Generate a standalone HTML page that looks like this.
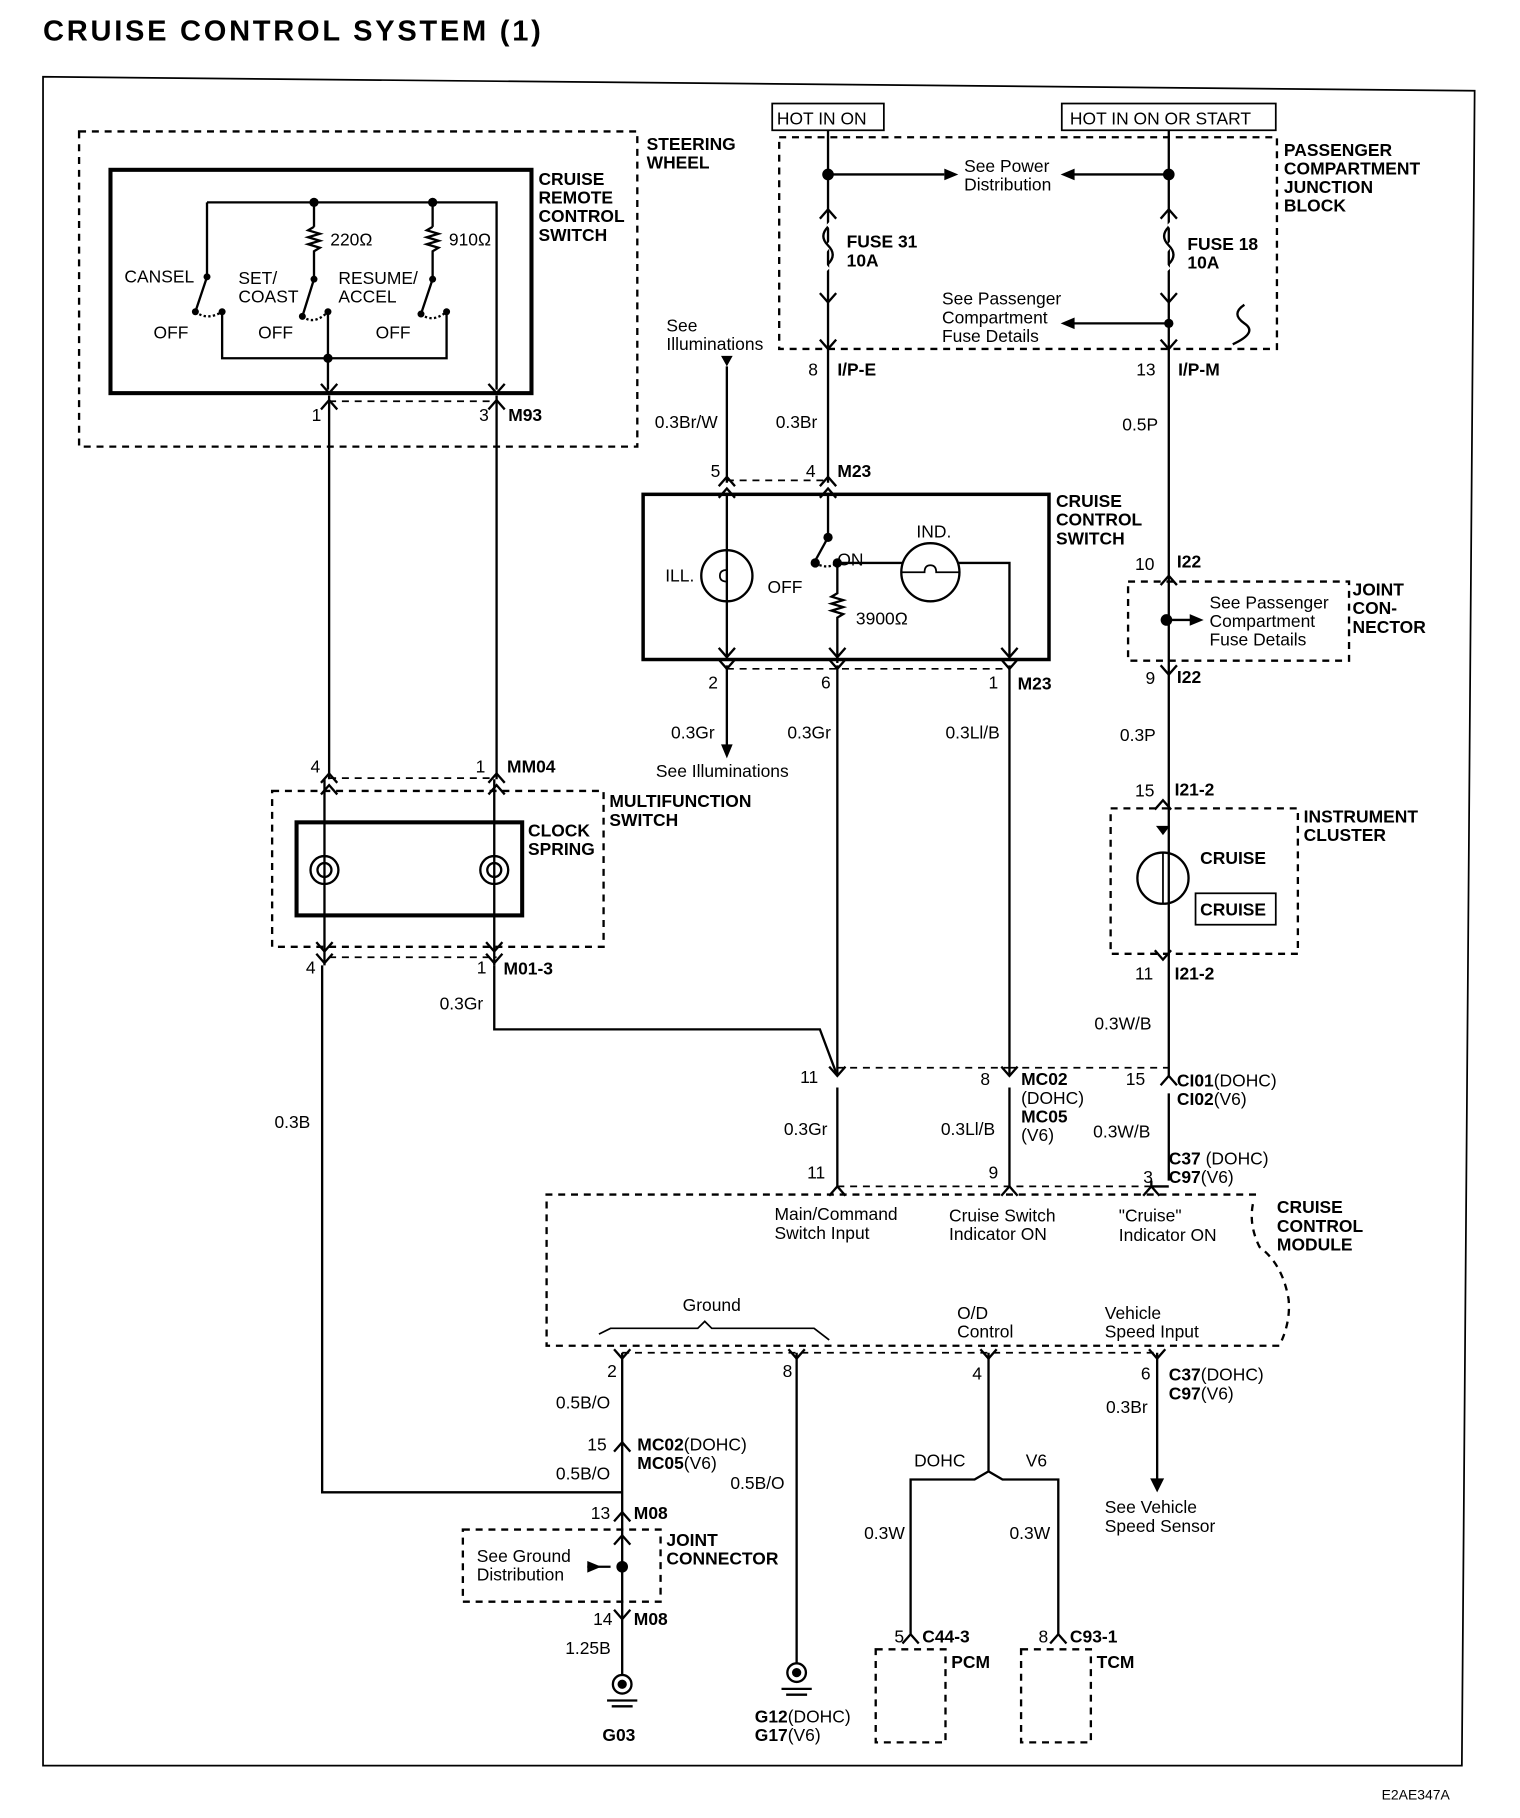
<!DOCTYPE html>
<html><head><meta charset="utf-8"><style>
html,body{margin:0;padding:0;background:#fff}
svg{display:block}
text{font-family:"Liberation Sans",Arial,sans-serif;font-size:15px;fill:#000}
.b{font-weight:bold}
</style></head><body>
<svg width="1520" height="1818" viewBox="0 0 1307 1563" preserveAspectRatio="none" xmlns="http://www.w3.org/2000/svg">
<defs>
<g id="v"><path d="M-7,-8 L0,0 L7,-8" fill="none" stroke="#000" stroke-width="2"/></g>
<g id="u"><path d="M-7,8 L0,0 L7,8" fill="none" stroke="#000" stroke-width="2"/></g>
</defs>
<g stroke="#000" fill="none" stroke-width="2">
<path d="M37,66 L1268,78 L1257,1518 L37,1518 Z" stroke-width="1.5"/>
<rect x="68" y="113" width="480" height="271" stroke-dasharray="6,5"/>
<rect x="95" y="146" width="362" height="192" stroke-width="3.5"/>
<path d="M178,174 H427 V335 M178,174 V238 M270,174 V195 M372,174 V195"/>
<path d="M270,195 l-5,3 10,3 -10,3 10,3 -10,3 10,3 -5,3 V240 M372,195 l-5,3 10,3 -10,3 10,3 -10,3 10,3 -5,3 V240"/>
<path d="M178,238 L168,268 M270,240 L260,272 M372,240 L362,270"/>
<path d="M191,268 V308 H384 V268 M282,268 V335" />
<path d="M168,268 q10,8 23,0 M260,272 q10,8 22,-4 M362,270 q10,8 22,-2" stroke-dasharray="2,2"/>
<path d="M283,345 H427" stroke-dasharray="6,5" stroke-width="1.5"/>
<path d="M283,340 V670 M427,340 V670"/>
<rect x="234" y="680" width="285" height="134" stroke-dasharray="6,5"/>
<rect x="255" y="707" width="194" height="80" stroke-width="3.5"/>
<path d="M279,670 V830 M425,670 V830"/>
<circle cx="279" cy="748" r="12"/><circle cx="279" cy="748" r="6"/>
<circle cx="425" cy="748" r="12"/><circle cx="425" cy="748" r="6"/>
<path d="M283,669 H427 M283,823 H427" stroke-dasharray="6,5" stroke-width="1.5"/>
<path d="M277,830 V1283 H535"/>
<path d="M425,830 V885 H705 L720,925"/>
<rect x="664" y="89" width="96" height="23" stroke-width="1.5"/>
<rect x="913" y="89" width="184" height="23" stroke-width="1.5"/>
<rect x="670" y="118" width="428" height="182" stroke-dasharray="6,5"/>
<path d="M712,112 V415 M1005,112 V495"/>
<path d="M712,150 H812 M1005,150 H922 M1005,278 H922"/>
<path d="M712,192 q10,10 0,20 q-10,10 0,20 M1005,192 q10,10 0,20 q-10,10 0,20" stroke="#fff" stroke-width="4"/>
<path d="M712,195 q-8,8 0,16 q8,8 0,16 M1005,195 q-8,8 0,16 q8,8 0,16"/>
<path d="M1070,262 q-12,8 0,16 q12,8 -10,18"/>
<path d="M625,315 V415 M625,572 V642 M720,572 V925 M868,572 V925"/>
<path d="M625,413 H712 M625,575 H868" stroke-dasharray="6,5" stroke-width="1.5"/>
<rect x="553" y="425" width="349" height="142" stroke-width="3"/>
<path d="M625,425 V565"/>
<circle cx="625" cy="495" r="22"/>
<path d="M625,490 q-6,0 -6,5 q0,5 6,5" stroke-width="1.5"/>
<path d="M712,425 V462 L701,482 M720,484 V510 l-5,3 10,3 -10,3 10,3 -10,3 10,3 -5,3 V570 M720,484 H868 V565"/>
<path d="M701,484 q10,6 19,0" stroke-dasharray="2,2"/>
<circle cx="800" cy="492" r="25" fill="#fff"/>
<path d="M775,492 H795 q0,-6 5,-6 q5,0 5,6 H825" stroke-width="1.5"/>
<rect x="970" y="500" width="190" height="68" stroke-dasharray="6,5"/>
<path d="M1005,495 V925 M1005,533 H1025 M1005,940 V1015"/>
<rect x="955" y="695" width="161" height="125" stroke-dasharray="6,5"/>
<circle cx="1000" cy="755" r="22"/>
<path d="M1000,733 V777" stroke-width="1.5"/>
<rect x="1028" y="768" width="69" height="27" stroke-width="1.5"/>
<path d="M720,918 H868 M868,918 H1005" stroke-dasharray="6,5" stroke-width="1.5"/>
<path d="M720,935 V1020 M868,935 V1020 M990,1020 H1005 M990,1015 V1020"/>
<path d="M1080,1027 H470 V1157 H1100 q10,-20 8,-40 q-5,-30 -25,-45 q-10,-20 -5,-40" stroke-dasharray="6,5"/>
<path d="M720,1020 H990" stroke-dasharray="6,5" stroke-width="1.5"/>
<path d="M515,1147 l10,-5 H600 l6,-6 6,6 H700 l13,10" stroke-width="1.5"/>
<path d="M535,1163 H995" stroke-dasharray="6,5" stroke-width="1.5"/>
<path d="M535,1163 V1440 M685,1163 V1430 M850,1163 V1265 L838,1272 H783 V1405 M850,1265 L862,1272 H910 V1405 M995,1163 V1272"/>
<rect x="398" y="1315" width="170" height="62" stroke-dasharray="6,5"/>
<path d="M505,1347 H525"/>
<rect x="753" y="1418" width="60" height="80" stroke-dasharray="6,5"/>
<rect x="878" y="1418" width="60" height="80" stroke-dasharray="6,5"/>
</g>
<g fill="#000">
<circle cx="270" cy="174" r="4"/><circle cx="372" cy="174" r="4"/><circle cx="282" cy="308" r="4"/>
<circle cx="178" cy="238" r="3"/><circle cx="270" cy="240" r="3"/><circle cx="372" cy="240" r="3"/>
<circle cx="168" cy="268" r="3"/><circle cx="191" cy="268" r="3"/><circle cx="260" cy="272" r="3"/><circle cx="282" cy="268" r="3"/><circle cx="362" cy="270" r="3"/><circle cx="384" cy="268" r="3"/>
<circle cx="712" cy="150" r="5"/><circle cx="1005" cy="150" r="5"/><circle cx="1005" cy="278" r="4"/>
<circle cx="712" cy="462" r="4"/><circle cx="701" cy="484" r="4"/><circle cx="720" cy="484" r="4"/>
<circle cx="1003" cy="533" r="5"/><circle cx="535" cy="1347" r="5"/>
<path d="M824,150 l-12,-5 v10z M912,150 l12,-5 v10z M912,278 l12,-5 v10z M1035,533 l-12,-5 v10z M625,315 l-5,-9 h10z M625,652 l-5,-12 h10z M995,1283 l-6,-12 h12z M517,1347 l-12,-5 v10z M1000,718 l-6,-8 h12z"/>
</g>
<g>
<use href="#v" x="283" y="338"/><use href="#u" x="283" y="344"/>
<use href="#v" x="427" y="338"/><use href="#u" x="427" y="344"/>
<use href="#u" x="283" y="665"/><use href="#u" x="283" y="675"/>
<use href="#u" x="427" y="665"/><use href="#u" x="427" y="675"/>
<use href="#v" x="279" y="818"/><use href="#v" x="279" y="828"/>
<use href="#v" x="425" y="818"/><use href="#v" x="425" y="828"/>
<use href="#v" x="712" y="260"/><use href="#u" x="712" y="180"/><use href="#v" x="712" y="300"/>
<use href="#v" x="1005" y="260"/><use href="#u" x="1005" y="180"/><use href="#v" x="1005" y="300"/>
<use href="#u" x="625" y="410"/><use href="#u" x="625" y="420"/>
<use href="#u" x="712" y="410"/><use href="#u" x="712" y="420"/>
<use href="#v" x="625" y="565"/><use href="#v" x="625" y="575"/>
<use href="#v" x="720" y="565"/><use href="#v" x="720" y="575"/>
<use href="#v" x="868" y="565"/><use href="#v" x="868" y="575"/>
<use href="#u" x="1005" y="495"/><use href="#v" x="1005" y="580"/>
<use href="#u" x="1000" y="688"/><use href="#v" x="1000" y="825"/>
<use href="#v" x="720" y="925"/><use href="#v" x="868" y="925"/><use href="#u" x="1005" y="925"/>
<use href="#u" x="720" y="1020"/><use href="#u" x="868" y="1020"/><use href="#u" x="990" y="1020"/>
<use href="#v" x="535" y="1168"/><use href="#v" x="685" y="1168"/><use href="#v" x="850" y="1168"/><use href="#v" x="995" y="1168"/>
<use href="#u" x="535" y="1240"/><use href="#u" x="535" y="1300"/><use href="#u" x="535" y="1320"/><use href="#v" x="535" y="1392"/>
<use href="#u" x="783" y="1405"/><use href="#u" x="910" y="1405"/>
</g>
<g stroke="#000" fill="none" stroke-width="2">
<circle cx="535" cy="1448" r="8"/><circle cx="685" cy="1438" r="8"/>
<path d="M522,1462 H548 M526,1467 H544 M672,1452 H698 M676,1457 H694"/>
</g>
<circle cx="535" cy="1448" r="4"/><circle cx="685" cy="1438" r="4"/>
<text x="37" y="35" class="b" style="font-size:25px" textLength="428" lengthAdjust="spacing">CRUISE CONTROL SYSTEM (1)</text>
<g class="b">
<text x="556" y="129">STEERING</text><text x="556" y="145">WHEEL</text>
<text x="463" y="159">CRUISE</text><text x="463" y="175">REMOTE</text><text x="463" y="191">CONTROL</text><text x="463" y="207">SWITCH</text>
<text x="437" y="362">M93</text>
<text x="436" y="664">MM04</text><text x="433" y="838">M01-3</text>
<text x="524" y="694">MULTIFUNCTION</text><text x="524" y="710">SWITCH</text>
<text x="454" y="719">CLOCK</text><text x="454" y="735">SPRING</text>
<text x="728" y="213">FUSE 31</text><text x="728" y="229">10A</text>
<text x="1021" y="215">FUSE 18</text><text x="1021" y="231">10A</text>
<text x="1104" y="134">PASSENGER</text><text x="1104" y="150">COMPARTMENT</text><text x="1104" y="166">JUNCTION</text><text x="1104" y="182">BLOCK</text>
<text x="720" y="323">I/P-E</text><text x="1013" y="323">I/P-M</text>
<text x="720" y="410">M23</text><text x="875" y="593">M23</text>
<text x="908" y="436">CRUISE</text><text x="908" y="452">CONTROL</text><text x="908" y="468">SWITCH</text>
<text x="1012" y="488">I22</text><text x="1012" y="587">I22</text>
<text x="1163" y="512">JOINT</text><text x="1163" y="528">CON-</text><text x="1163" y="544">NECTOR</text>
<text x="1010" y="684">I21-2</text><text x="1010" y="842">I21-2</text>
<text x="1121" y="707">INSTRUMENT</text><text x="1121" y="723">CLUSTER</text>
<text x="1032" y="743">CRUISE</text><text x="1032" y="787">CRUISE</text>
<text x="1098" y="1043">CRUISE</text><text x="1098" y="1059">CONTROL</text><text x="1098" y="1075">MODULE</text>
<text x="545" y="1306">M08</text><text x="545" y="1397">M08</text>
<text x="573" y="1329">JOINT</text><text x="573" y="1345">CONNECTOR</text>
<text x="793" y="1412">C44-3</text><text x="920" y="1412">C93-1</text>
<text x="818" y="1434">PCM</text><text x="943" y="1434">TCM</text>
<text x="518" y="1497">G03</text>
</g>
<text x="107" y="243">CANSEL</text><text x="205" y="244">SET/</text><text x="205" y="260">COAST</text>
<text x="291" y="244">RESUME/</text><text x="291" y="260">ACCEL</text>
<text x="284" y="211">220Ω</text><text x="386" y="211">910Ω</text>
<text x="132" y="291">OFF</text><text x="222" y="291">OFF</text><text x="323" y="291">OFF</text>
<text x="268" y="362">1</text><text x="412" y="362">3</text>
<text x="267" y="664">4</text><text x="409" y="664">1</text>
<text x="263" y="837">4</text><text x="410" y="837">1</text>
<text x="378" y="868">0.3Gr</text><text x="236" y="970">0.3B</text>
<text x="668" y="107">HOT IN ON</text><text x="920" y="107">HOT IN ON OR START</text>
<text x="829" y="148">See Power</text><text x="829" y="164">Distribution</text>
<text x="810" y="262">See Passenger</text><text x="810" y="278">Compartment</text><text x="810" y="294">Fuse Details</text>
<text x="573" y="285">See</text><text x="573" y="301">Illuminations</text>
<text x="695" y="323">8</text><text x="977" y="323">13</text>
<text x="563" y="368">0.3Br/W</text><text x="667" y="368">0.3Br</text><text x="965" y="370">0.5P</text>
<text x="611" y="410">5</text><text x="693" y="410">4</text>
<text x="572" y="500">ILL.</text><text x="660" y="510">OFF</text><text x="720" y="486">ON</text><text x="788" y="462">IND.</text>
<text x="736" y="537">3900Ω</text>
<text x="609" y="592">2</text><text x="706" y="592">6</text><text x="850" y="592">1</text>
<text x="577" y="635">0.3Gr</text><text x="677" y="635">0.3Gr</text><text x="813" y="635">0.3Ll/B</text>
<text x="564" y="668">See Illuminations</text>
<text x="976" y="490">10</text><text x="985" y="588">9</text>
<text x="1040" y="523">See Passenger</text><text x="1040" y="539">Compartment</text><text x="1040" y="555">Fuse Details</text>
<text x="963" y="637">0.3P</text><text x="976" y="685">15</text><text x="976" y="842">11</text>
<text x="941" y="885">0.3W/B</text>
<text x="688" y="931">11</text><text x="843" y="933">8</text><text x="968" y="933">15</text>
<text x="878" y="933" class="b">MC02</text><text x="878" y="949">(DOHC)</text><text x="878" y="965" class="b">MC05</text><text x="878" y="981">(V6)</text>
<text x="1012" y="934"><tspan class="b">CI01</tspan>(DOHC)</text><text x="1012" y="950"><tspan class="b">CI02</tspan>(V6)</text>
<text x="674" y="976">0.3Gr</text><text x="809" y="976">0.3Ll/B</text><text x="940" y="978">0.3W/B</text>
<text x="1005" y="1001"><tspan class="b">C37</tspan> (DOHC)</text><text x="1005" y="1017"><tspan class="b">C97</tspan>(V6)</text>
<text x="694" y="1013">11</text><text x="850" y="1013">9</text><text x="983" y="1017">3</text>
<text x="666" y="1049">Main/Command</text><text x="666" y="1065">Switch Input</text>
<text x="816" y="1050">Cruise Switch</text><text x="816" y="1066">Indicator ON</text>
<text x="962" y="1050">"Cruise"</text><text x="962" y="1067">Indicator ON</text>
<text x="587" y="1127">Ground</text><text x="823" y="1134">O/D</text><text x="823" y="1150">Control</text>
<text x="950" y="1134">Vehicle</text><text x="950" y="1150">Speed Input</text>
<text x="522" y="1184">2</text><text x="673" y="1184">8</text><text x="836" y="1186">4</text><text x="981" y="1186">6</text>
<text x="1005" y="1187"><tspan class="b">C37</tspan>(DOHC)</text><text x="1005" y="1203"><tspan class="b">C97</tspan>(V6)</text>
<text x="478" y="1211">0.5B/O</text><text x="951" y="1215">0.3Br</text>
<text x="505" y="1247">15</text><text x="548" y="1247"><tspan class="b">MC02</tspan>(DOHC)</text><text x="548" y="1263"><tspan class="b">MC05</tspan>(V6)</text>
<text x="478" y="1272">0.5B/O</text><text x="628" y="1280">0.5B/O</text>
<text x="786" y="1261">DOHC</text><text x="882" y="1261">V6</text>
<text x="950" y="1301">See Vehicle</text><text x="950" y="1317">Speed Sensor</text>
<text x="508" y="1306">13</text><text x="510" y="1397">14</text>
<text x="410" y="1343">See Ground</text><text x="410" y="1359">Distribution</text>
<text x="743" y="1323">0.3W</text><text x="868" y="1323">0.3W</text>
<text x="486" y="1422">1.25B</text>
<text x="769" y="1412">5</text><text x="893" y="1412">8</text>
<text x="649" y="1481"><tspan class="b">G12</tspan>(DOHC)</text><text x="649" y="1497"><tspan class="b">G17</tspan>(V6)</text>
<text x="1188" y="1547" style="font-size:12px">E2AE347A</text>
</svg>
</body></html>
